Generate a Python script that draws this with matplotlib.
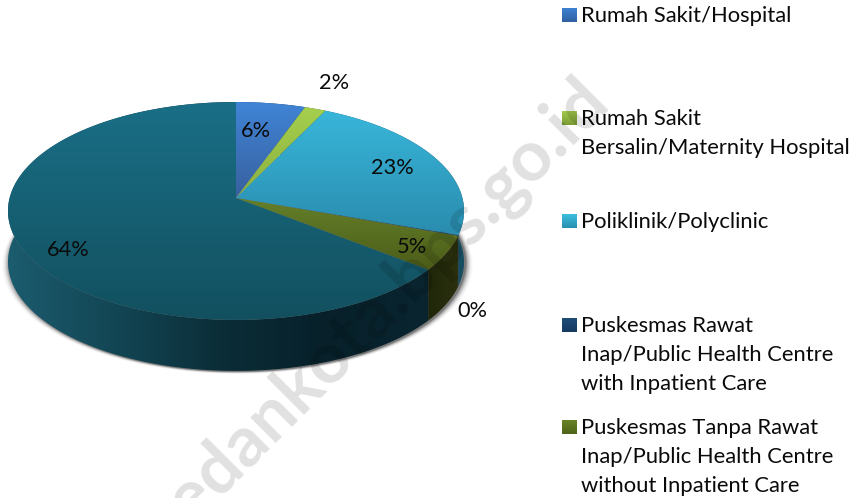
import numpy as np
import matplotlib
matplotlib.use("Agg")
import matplotlib.pyplot as plt
from matplotlib.patches import Polygon
from matplotlib.colors import LinearSegmentedColormap

plt.rcParams['font.family'] = ['Lato', 'DejaVu Sans']

categories = ["Rumah Sakit/Hospital",
              "Rumah Sakit\nBersalin/Maternity Hospital",
              "Poliklinik/Polyclinic",
              "Puskesmas Rawat\nInap/Public Health Centre\nwith Inpatient Care",
              "Puskesmas Tanpa Rawat\nInap/Public Health Centre\nwithout Inpatient Care",
              "Lainnya"]
values = [5.5, 1.7, 23.2, 0.1, 5.1, 64.4]
labels = ["6%", "2%", "23%", "0%", "5%", "64%"]
label_xy = [(256, 131), (334, 83), (392, 168), (472, 311), (412, 247), (68, 250)]
legend_y = [15, 118, 221, 325, 427]

top_colors = [("#4084d6", "#38609e"), ("#a6cf4e", "#8ab03e"), ("#38b6da", "#2a8cae"),
              ("#1f4e79", "#163a60"), ("#64802a", "#4c5c18"), ("#1a6f86", "#12505f")]
side_colors = [["#1d3c66", "#1d3c66"], ["#4d6320", "#4d6320"], ["#1c6078", "#174d60"],
               ["#10263e", "#10263e"], ["#1f260a", "#2b310e"],
               ["#1b5c6e", "#134655", "#0b2e38", "#07202a", "#0a2530"]]
swatches = [("#4084d6", "#2f5fa0"), ("#a6cf4e", "#7a9a35"), ("#3dc2e2", "#2a8fb0"),
            ("#1f4e79", "#163a60"), ("#6a8528", "#4f6318")]

CX, CY, A, B, K, DEPTH = 236.0, 198.0, 226.4, 107.4, 0.119, 51.0


def project(theta):
    w = 1 + K * np.cos(theta)
    return CX + A * np.sin(theta) / w, CY - B * np.cos(theta) / w


fig = plt.figure(figsize=(8.58, 4.98), dpi=100)
ax = fig.add_axes([0, 0, 1, 1])
ax.set_xlim(0, 858)
ax.set_ylim(498, 0)
ax.axis("off")


def gradient(poly, colors, horizontal, zorder, extent=None):
    xy = poly.get_xy()
    if extent is None:
        extent = (xy[:, 0].min(), xy[:, 0].max(), xy[:, 1].max(), xy[:, 1].min())
    cmap = LinearSegmentedColormap.from_list("g", colors)
    g = np.linspace(0, 1, 256)
    g = g[None, :] if horizontal else g[:, None]
    im = ax.imshow(g, cmap=cmap, extent=extent, aspect="auto", zorder=zorder,
                   interpolation="bilinear", vmin=0, vmax=1)
    ax.add_patch(poly)
    poly.set_facecolor("none")
    poly.set_edgecolor("none")
    im.set_clip_path(poly)


edges = np.radians(np.concatenate([[0], np.cumsum(values)]) * 3.6)

# soft shadow under the cylinder
full = np.linspace(0, 2 * np.pi, 400)
fx, fy = project(full)
for grow, a in zip([7.0, 5.5, 4.5, 3.5, 2.5, 1.5, 0.7], [0.04, 0.06, 0.08, 0.11, 0.15, 0.2, 0.28]):
    sx = CX + 1.5 + (fx - CX) * (1 + grow / 228)
    sy = fy + DEPTH + 0.8 + grow * 0.3
    ax.add_patch(Polygon(np.c_[sx, sy], closed=True, fc="#303030", ec="none", alpha=a, zorder=1))

# walls
for i in range(len(values)):
    t = np.linspace(edges[i], edges[i + 1], 160)
    x, y = project(t)
    pts = np.r_[np.c_[x, y], np.c_[x, y + DEPTH][::-1]]
    gradient(Polygon(pts, closed=True), side_colors[i], True, 2)

# top faces
for i in range(len(values)):
    t = np.linspace(edges[i], edges[i + 1], 160)
    x, y = project(t)
    pts = np.r_[[[CX, CY]], np.c_[x, y]]
    gradient(Polygon(pts, closed=True), top_colors[i], False, 3)

# percent labels
for s, (lx, ly) in zip(labels, label_xy):
    ax.text(lx, ly, s, fontsize=15.7, color="#0a0a0a", ha="center", va="center", zorder=5)

# legend
for i, y0 in enumerate(legend_y):
    r = Polygon([(562, y0 - 7.5), (577, y0 - 7.5), (577, y0 + 7.5), (562, y0 + 7.5)], closed=True)
    gradient(r, swatches[i], False, 4)
    for j, line in enumerate(categories[i].split("\n")):
        ax.text(581, y0 + 1 + j * 29, line, fontsize=15.8, color="#0a0a0a", ha="left",
                va="center", zorder=5)

# watermark
ax.text(367, 320, "medankota.bps.go.id", fontsize=51, fontweight="bold", color="black",
        alpha=0.12, rotation=45, rotation_mode="anchor", ha="center", va="center", zorder=6,
        clip_on=False)

ax.set_xlim(0, 858)
ax.set_ylim(498, 0)
fig.savefig("out.png", dpi=100)
